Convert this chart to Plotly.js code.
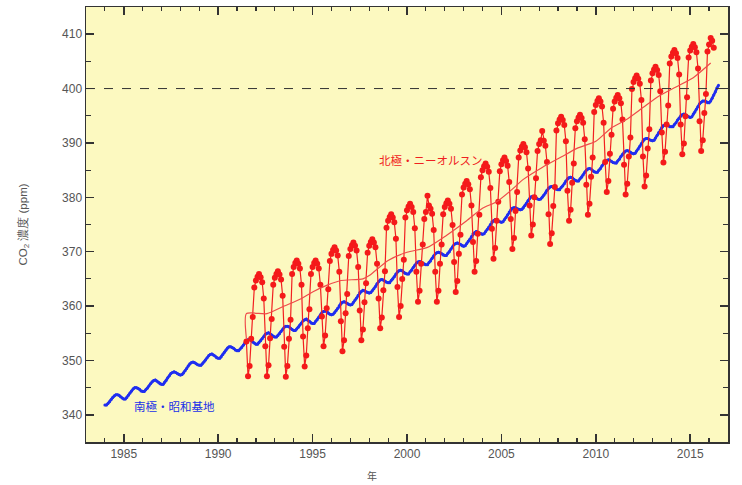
<!DOCTYPE html>
<html><head><meta charset="utf-8">
<script src="https://cdn.plot.ly/plotly-3.0.1.min.js"></script>
<style>html,body{margin:0;padding:0;background:#fff}</style>
</head><body><div id="chart" style="width:742px;height:485px"></div>
<script>
// 南極・昭和基地 monthly CO2 (ppm), starting Jan 1984
const blueStartYear = 1984, blueStartMonth = 1;
const blueValues = [
341.8,341.8,342.1,342.4,342.8,343.2,343.5,343.7,343.7,343.6,343.3,343.1,
342.9,342.9,343.2,343.6,344.0,344.4,344.8,345.0,345.0,344.9,344.7,344.4,
344.3,344.3,344.6,344.9,345.3,345.7,346.1,346.3,346.4,346.2,346.0,345.7,
345.6,345.6,346.0,346.3,346.8,347.2,347.6,347.8,347.9,347.8,347.6,347.4,
347.3,347.4,347.7,348.1,348.5,349.0,349.4,349.6,349.7,349.6,349.4,349.2,
349.1,349.1,349.4,349.7,350.1,350.5,350.9,351.1,351.2,351.0,350.8,350.5,
350.4,350.4,350.7,351.1,351.5,351.9,352.3,352.5,352.5,352.4,352.2,351.9,
351.8,351.8,352.1,352.4,352.8,353.2,353.6,353.8,353.8,353.7,353.4,353.2,
353.0,353.0,353.3,353.6,354.0,354.4,354.8,355.0,355.1,354.9,354.7,354.4,
354.3,354.3,354.6,354.9,355.3,355.7,356.1,356.3,356.3,356.2,355.9,355.7,
355.5,355.5,355.8,356.1,356.5,356.9,357.3,357.5,357.6,357.4,357.2,356.9,
356.8,356.8,357.2,357.5,357.9,358.4,358.8,359.0,359.1,359.0,358.7,358.5,
358.4,358.5,358.8,359.2,359.6,360.1,360.5,360.7,360.8,360.7,360.5,360.3,
360.2,360.3,360.7,361.1,361.5,362.0,362.5,362.7,362.9,362.8,362.6,362.5,
362.4,362.5,362.8,363.2,363.6,364.1,364.5,364.8,364.9,364.8,364.6,364.4,
364.3,364.3,364.7,365.0,365.4,365.9,366.3,366.5,366.6,366.5,366.2,366.0,
365.9,365.9,366.3,366.6,367.1,367.5,367.9,368.1,368.2,368.1,367.9,367.7,
367.6,367.6,368.0,368.3,368.8,369.2,369.6,369.8,369.9,369.8,369.6,369.4,
369.3,369.3,369.7,370.0,370.5,370.9,371.3,371.5,371.6,371.5,371.3,371.1,
371.0,371.1,371.5,371.9,372.3,372.8,373.3,373.5,373.7,373.6,373.4,373.3,
373.2,373.3,373.7,374.1,374.5,375.0,375.5,375.7,375.9,375.8,375.6,375.5,
375.4,375.5,375.9,376.3,376.8,377.3,377.7,378.0,378.1,378.1,377.9,377.8,
377.7,377.8,378.1,378.5,378.9,379.4,379.8,380.1,380.2,380.1,379.9,379.7,
379.6,379.7,380.0,380.4,380.8,381.3,381.7,381.9,382.0,381.9,381.7,381.5,
381.4,381.4,381.8,382.1,382.5,383.0,383.4,383.6,383.7,383.6,383.3,383.1,
383.0,383.0,383.4,383.7,384.1,384.6,385.0,385.2,385.3,385.2,384.9,384.7,
384.6,384.6,385.0,385.3,385.8,386.2,386.6,386.8,386.9,386.8,386.6,386.4,
386.3,386.3,386.7,387.0,387.5,387.9,388.3,388.5,388.6,388.5,388.3,388.1,
388.0,388.1,388.5,388.9,389.4,389.9,390.4,390.7,390.8,390.8,390.6,390.5,
390.4,390.5,390.9,391.4,391.9,392.4,392.9,393.2,393.3,393.3,393.2,393.0,
393.0,393.0,393.4,393.7,394.2,394.6,395.0,395.2,395.3,395.2,395.0,394.8,
394.7,394.8,395.3,395.7,396.2,396.7,397.2,397.5,397.7,397.7,397.6,397.4,
397.4,397.7,398.2,398.8,399.4,400.1,400.6
];

// 北極・ニーオルスン monthly CO2 (ppm), starting Jul 1991
const redStartYear = 1991, redStartMonth = 7;
const redValues = [
353.5,347.1,349.0,354.0,358.0,363.4,
364.7,365.4,365.9,365.3,364.4,361.4,352.6,347.1,349.1,354.1,357.6,363.9,
365.2,365.9,366.4,365.8,364.9,361.9,352.5,347.0,349.0,354.0,357.5,365.9,
367.2,367.9,368.4,367.8,366.9,363.9,354.4,348.9,350.9,355.9,359.4,365.9,
367.2,367.9,368.4,367.8,366.9,363.9,358.1,352.6,354.6,359.6,363.1,368.3,
369.6,370.3,370.8,370.2,369.3,366.3,357.2,351.7,353.7,358.7,362.2,369.2,
370.5,371.2,371.7,371.1,370.2,367.2,359.2,353.7,355.7,360.7,364.2,369.8,
371.1,371.8,372.3,371.7,370.8,367.8,361.4,355.9,357.9,362.9,366.4,374.4,
375.7,376.4,376.9,376.3,375.4,372.4,363.5,358.0,360.0,365.0,368.5,376.3,
377.6,378.3,378.8,378.2,377.3,374.3,366.3,360.8,362.8,367.8,371.3,376.0,
377.3,380.3,378.5,377.9,377.0,374.0,366.3,360.8,362.8,367.8,371.3,376.9,
378.2,378.9,379.4,378.8,377.9,374.9,368.1,362.6,364.6,369.6,373.1,380.5,
381.8,382.5,383.0,382.4,381.5,378.5,371.8,366.3,368.3,373.3,376.8,383.7,
385.0,385.7,386.2,385.6,384.7,381.7,374.2,368.7,370.7,375.7,379.2,384.8,
386.1,386.8,387.3,386.7,385.8,382.8,376.0,370.5,372.5,377.5,381.0,387.3,
388.6,389.3,389.8,389.2,388.3,385.3,378.5,373.0,375.0,380.0,383.5,388.5,
389.8,390.5,392.2,390.4,389.5,386.5,376.9,371.4,373.4,378.4,381.9,392.3,
393.6,394.3,394.8,394.2,393.3,390.3,381.2,375.7,377.7,382.7,386.2,392.7,
394.0,394.7,395.2,394.6,393.7,390.7,382.3,376.8,378.8,383.8,387.3,395.7,
397.0,397.7,398.2,397.6,396.7,393.7,386.5,381.0,383.0,388.0,391.5,396.3,
397.6,398.3,398.8,398.2,397.3,394.3,386.0,380.5,382.5,387.5,391.0,399.9,
401.2,401.9,402.4,401.8,400.9,397.9,387.5,382.0,384.0,389.0,392.5,401.5,
402.8,403.5,404.0,403.4,402.5,399.5,391.9,386.4,388.4,393.4,396.9,404.6,
405.9,406.6,407.1,406.5,405.6,402.6,393.4,387.9,389.9,394.9,398.4,405.7,
407.0,407.7,408.2,407.6,406.7,403.7,394.0,388.5,390.5,395.5,399.0,406.8,
408.1,409.3,408.8,407.5
];

// 北極 smoothed trend
const trendDates = ['1991-07-01','1991-07-01','1992-08-01','1993-07-01','1994-06-01','1995-01-01','1995-10-01','1996-07-01','1997-09-01','1998-01-01','1999-01-01','2000-01-01','2001-02-01','2002-02-01','2003-03-01','2004-01-01','2004-10-01','2005-08-01','2006-03-01','2007-03-01','2008-03-01','2009-01-01','2010-01-01','2010-11-01','2011-08-01','2012-07-01','2013-05-01','2014-04-01','2015-03-01','2016-02-01'];
const trendValues = [354.0,358.6,358.6,360.0,361.4,362.6,363.8,364.7,365.0,365.6,368.4,369.9,370.8,373.0,375.7,378.0,379.2,381.5,383.3,385.5,387.4,389.0,390.3,392.8,394.2,396.5,398.6,400.3,402.0,404.7];

const refLevel = 400;
const labelNorth = '北極・ニーオルスン';
const labelSouth = '南極・昭和基地';
const yTitle = 'CO<sub>2</sub> 濃度 (ppm)';
const xTitle = '年';

function monthDates(y0, m0, n) {
  const out = [];
  for (let i = 0; i < n; i++) {
    const t = (m0 - 1) + i;
    const y = y0 + Math.floor(t / 12);
    const m = (t % 12) + 1;
    out.push(y + '-' + String(m).padStart(2, '0') + '-01');
  }
  return out;
}

const blueX = monthDates(blueStartYear, blueStartMonth, blueValues.length);
const redX = monthDates(redStartYear, redStartMonth, redValues.length);

const axisColor = '#333';
const traces = [
  {x: blueX, y: blueValues, type: 'scatter', mode: 'lines+markers',
   line: {color: '#1f2ef0', width: 2.6}, marker: {color: '#1f2ef0', size: 3}, hoverinfo: 'skip'},
  {x: redX, y: redValues, type: 'scatter', mode: 'lines+markers',
   line: {color: '#f22020', width: 1.2}, marker: {color: '#f41a1a', size: 6}, hoverinfo: 'skip'},
  {x: trendDates, y: trendValues, type: 'scatter', mode: 'lines',
   line: {color: '#ef4a4a', width: 1.2, shape: 'spline', smoothing: 0.6}, hoverinfo: 'skip'}
];

const layout = {
  width: 742, height: 485,
  margin: {l: 86, r: 14, t: 7, b: 43},
  paper_bgcolor: '#ffffff',
  plot_bgcolor: '#fcf9c0',
  showlegend: false,
  font: {family: 'Liberation Sans, Arial, sans-serif', color: '#555'},
  xaxis: {
    type: 'date', range: ['1983-01-01', '2017-01-01'],
    tick0: '1985-01-01', dtick: 'M60', tickformat: '%Y',
    ticks: 'inside', ticklen: 8, tickwidth: 1.5, tickcolor: axisColor,
    showline: true, linecolor: axisColor, linewidth: 1.5, mirror: 'allticks',
    showgrid: false, zeroline: false,
    minor: {dtick: 'M12', ticks: 'inside', ticklen: 4, tickwidth: 1.2, tickcolor: axisColor, showgrid: false},
    tickfont: {size: 12, color: '#555'}
  },
  yaxis: {
    range: [335, 415], tick0: 0, dtick: 10,
    ticks: 'inside', ticklen: 8, tickwidth: 1.5, tickcolor: axisColor,
    showline: true, linecolor: axisColor, linewidth: 1.5, mirror: 'allticks',
    showgrid: false, zeroline: false,
    minor: {dtick: 5, ticks: 'inside', ticklen: 5, tickwidth: 1.2, tickcolor: axisColor, showgrid: false},
    tickfont: {size: 12, color: '#555'},
    title: {text: yTitle, font: {size: 11.5, color: '#555'}, standoff: 32}
  },
  shapes: [
    {type: 'line', xref: 'paper', x0: 0, x1: 1, yref: 'y', y0: refLevel, y1: refLevel,
     line: {color: '#333', width: 1, dash: 'dash'}}
  ],
  annotations: [
    {x: '2001-04-15', y: 386.9, xref: 'x', yref: 'y', text: labelNorth, showarrow: false,
     font: {family: 'Noto Sans CJK JP, sans-serif', size: 11.5, color: '#f02020'}},
    {x: '1987-09-01', y: 341.7, xref: 'x', yref: 'y', text: labelSouth, showarrow: false,
     font: {family: 'Noto Sans CJK JP, sans-serif', size: 11.5, color: '#2030e8'}},
    {x: 0.4455, y: -0.076, xref: 'paper', yref: 'paper', text: xTitle, showarrow: false,
     yanchor: 'middle', font: {family: 'Noto Sans CJK JP, sans-serif', size: 10, color: '#555'}}
  ]
};

Plotly.newPlot('chart', traces, layout, {staticPlot: true, displayModeBar: false});
</script>
</body></html>
